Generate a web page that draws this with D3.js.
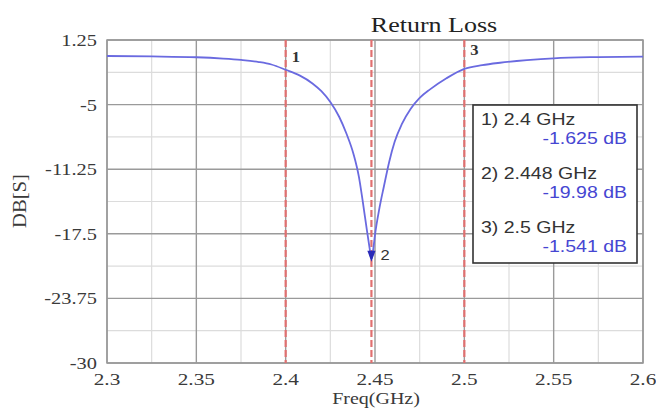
<!DOCTYPE html>
<html>
<head>
<meta charset="utf-8">
<script src="https://cdn.jsdelivr.net/npm/d3@7"></script>
<style>
  body { margin: 0; background: #fff; }
</style>
</head>
<body>
<script>
// curve (GHz, dB)
var freqs = [2.300, 2.325, 2.350, 2.365, 2.375, 2.385, 2.392, 2.400, 2.408, 2.415, 2.420, 2.425,
             2.430, 2.434, 2.438, 2.441, 2.443, 2.4455, 2.447, 2.448, 2.449, 2.450, 2.4525, 2.455,
             2.458, 2.461, 2.465, 2.470, 2.475, 2.481, 2.490, 2.500, 2.510, 2.520, 2.535, 2.550,
             2.575, 2.600];
var dbVals = [-0.30, -0.34, -0.42, -0.55, -0.68, -0.88, -1.12, -1.63, -2.20, -2.95, -3.70, -4.75,
              -6.20, -7.80, -9.80, -12.0, -14.2, -17.2, -18.9, -19.98, -19.0, -17.6, -15.0, -12.9,
              -10.5, -8.6, -6.9, -5.4, -4.35, -3.5, -2.45, -1.54, -1.18, -0.95, -0.70, -0.52,
              -0.40, -0.35];

// markers
var markerNames = ["1", "2", "3"];
var markerFreqs = [2.4, 2.448, 2.5];
var markerDb = [-1.625, -19.98, -1.541];
var markerFreqText = ["2.4", "2.448", "2.5"];
var markerDbText = ["-1.625", "-19.98", "-1.541"];

// ticks
var xTicks = [2.3, 2.35, 2.4, 2.45, 2.5, 2.55, 2.6];
var yTicks = [1.25, -5, -11.25, -17.5, -23.75, -30];

var W = 656, H = 408;
var pLeft = 107, pRight = 643, pTop = 40, pBottom = 363;
var serif = "'Liberation Serif', 'Times New Roman', serif";
var sans = "'Liberation Sans', Arial, sans-serif";

var svg = d3.select("body").append("svg")
    .attr("width", W)
    .attr("height", H);

var x = d3.scaleLinear().domain([2.3, 2.6]).range([pLeft, pRight]);
var y = d3.scaleLinear().domain([-30, 1.25]).range([pBottom, pTop]);

// the picture is stretched sideways, so the text is too
function label(parent, px, py, txt, size, anchor, family, fill, sx) {
  var g = parent.append("g").attr("transform", "translate(" + px + "," + py + ") scale(" + sx + ",1)");
  return g.append("text")
    .attr("text-anchor", anchor)
    .attr("font-family", family)
    .attr("font-size", size)
    .attr("fill", fill)
    .text(txt);
}

//minor grid
var xMinor = xTicks.slice(0, -1).map(function(t) { return t + 0.025; });
var yMinor = yTicks.slice(0, -1).map(function(t) { return t - 3.125; });

svg.append("g").selectAll("line").data(xMinor).enter().append("line")
    .attr("x1", function(d) { return x(d); }).attr("x2", function(d) { return x(d); })
    .attr("y1", pTop).attr("y2", pBottom)
    .attr("stroke", "#dcdcdc").attr("stroke-width", 1.2);
svg.append("g").selectAll("line").data(yMinor).enter().append("line")
    .attr("y1", function(d) { return y(d); }).attr("y2", function(d) { return y(d); })
    .attr("x1", pLeft).attr("x2", pRight)
    .attr("stroke", "#dcdcdc").attr("stroke-width", 1.2);

//major grid
svg.append("g").selectAll("line").data(xTicks).enter().append("line")
    .attr("x1", function(d) { return x(d); }).attr("x2", function(d) { return x(d); })
    .attr("y1", pTop).attr("y2", pBottom)
    .attr("stroke", "#9a9a9a").attr("stroke-width", 1.4);
svg.append("g").selectAll("line").data(yTicks).enter().append("line")
    .attr("y1", function(d) { return y(d); }).attr("y2", function(d) { return y(d); })
    .attr("x1", pLeft).attr("x2", pRight)
    .attr("stroke", "#9a9a9a").attr("stroke-width", 1.4);

svg.append("rect")
    .attr("x", pLeft).attr("y", pTop)
    .attr("width", pRight - pLeft).attr("height", pBottom - pTop)
    .attr("fill", "none").attr("stroke", "#999").attr("stroke-width", 1.5);

// marker lines
svg.append("g").selectAll("line").data(markerFreqs).enter().append("line")
    .attr("x1", function(d) { return x(d); }).attr("x2", function(d) { return x(d); })
    .attr("y1", pTop).attr("y2", pBottom)
    .attr("stroke", "#e07070").attr("stroke-width", 2.2)
    .attr("stroke-dasharray", "7,3");

// curve
var line = d3.line()
    .x(function(d, i) { return x(freqs[i]); })
    .y(function(d) { return y(d); })
    .curve(d3.curveMonotoneX);

svg.append("path")
    .datum(dbVals)
    .attr("d", line)
    .attr("fill", "none")
    .attr("stroke", "#6a6ae0")
    .attr("stroke-width", 1.8);

// marker 2 triangle
svg.append("path")
    .attr("d", d3.symbol().type(d3.symbolTriangle).size(40))
    .attr("transform", "translate(" + x(markerFreqs[1]) + "," + (y(markerDb[1]) - 5) + ") rotate(180) scale(0.85,1.3)")
    .attr("fill", "#2a2ab8");

// marker numbers
markerNames.forEach(function(n, i) {
  var px = x(markerFreqs[i]) + (i == 1 ? 9 : 6);
  var py = y(markerDb[i]) - (i == 1 ? -1 : (i == 0 ? 8 : 14));
  label(svg, px, py, n, 15, "start", i == 1 ? sans : serif, "#333", 1.1)
    .attr("font-weight", i == 1 ? "normal" : "bold");
});

// axis labels
yTicks.forEach(function(t) {
  label(svg, 97, y(t) + 6, String(t), 17, "end", serif, "#3a3a3a", 1.2);
});
xTicks.forEach(function(t) {
  label(svg, x(t), 385, String(t), 17, "middle", serif, "#3a3a3a", 1.25);
});

label(svg, 434, 32, "Return Loss", 20, "middle", serif, "#222", 1.3);
label(svg, 376, 404, "Freq(GHz)", 16, "middle", serif, "#3a3a3a", 1.25);

svg.append("g").attr("transform", "translate(26,201) rotate(-90)")
  .append("text")
    .attr("text-anchor", "middle")
    .attr("font-family", serif)
    .attr("font-size", 18)
    .attr("fill", "#3a3a3a")
    .attr("transform", "scale(1.15,1)")
    .text("DB[S]");

// legend box
var legend = svg.append("g");
legend.append("rect")
    .attr("x", 473).attr("y", 105)
    .attr("width", 164).attr("height", 158)
    .attr("fill", "#fff").attr("stroke", "#333").attr("stroke-width", 1.6);

markerNames.forEach(function(n, i) {
  var by = 125 + i * 54;
  label(legend, 481, by, n + ") " + markerFreqText[i] + " GHz", 16, "start", sans, "#333", 1.22);
  label(legend, 627, by + 19, markerDbText[i] + " dB", 16, "end", sans, "#4646d2", 1.22);
});
</script>
</body>
</html>
